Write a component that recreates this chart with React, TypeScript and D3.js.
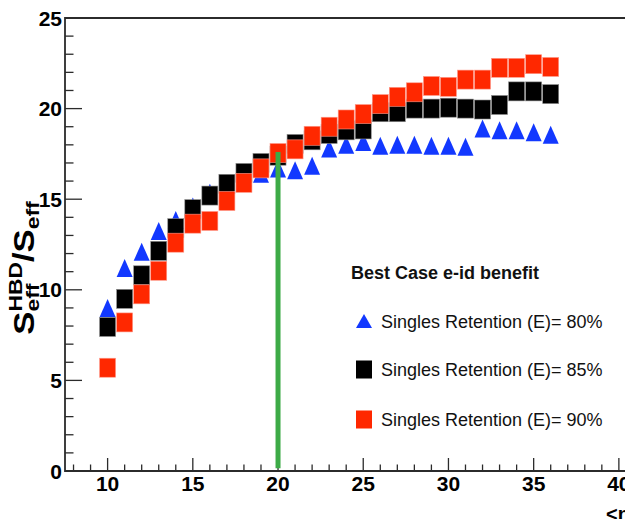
import React, { useEffect, useRef } from 'react';
import * as d3 from 'd3';

// <ne> values where each point was computed
const nePoints = [10, 11, 12, 13, 14, 15, 16, 17, 18, 19, 20, 21, 22, 23, 24, 25, 26, 27, 28, 29, 30, 31, 32, 33, 34, 35, 36];

// S_eff^HBD / S_eff for each singles retention
const retention80 = [9.0, 11.2, 12.1, 13.25, 13.85, 14.6, 15.35, 15.8, 16.2, 16.4, 16.7, 16.6, 16.85, 17.8, 18.0, 18.15, 17.95, 18.0, 18.0, 17.95, 17.95, 17.9, 18.9, 18.8, 18.8, 18.7, 18.55];
const retention85 = [7.95, 9.5, 10.8, 12.15, 13.4, 14.45, 15.2, 15.85, 16.45, 17.0, 17.4, 18.05, 18.25, 18.6, 18.8, 18.85, 19.8, 19.8, 20.0, 20.0, 20.05, 20.0, 19.95, 20.2, 20.95, 20.95, 20.8];
const retention90 = [5.7, 8.2, 9.75, 11.05, 12.6, 13.65, 13.8, 14.9, 15.9, 16.7, 17.55, 17.75, 18.5, 19.0, 19.4, 19.7, 20.25, 20.65, 20.9, 21.25, 21.2, 21.6, 21.6, 22.25, 22.25, 22.45, 22.3];

const xTickLabels = [10, 15, 20, 25, 30, 35, 40];
const yTickLabels = [0, 5, 10, 15, 20, 25];

// vertical marker line at <ne> = 20
const markerNe = 20;
const markerRange = [0.15, 17.6];

const legendTitle = 'Best Case e-id benefit';
const seriesNames = ['Singles Retention (E)= 80%', 'Singles Retention (E)= 85%', 'Singles Retention (E)= 90%'];

const BLUE = '#1238ff';
const RED = '#ff2800';
const GREEN = '#3dab47';
const FONT = "'Liberation Sans', Arial, Helvetica, sans-serif";

const App = () => {
  const ref = useRef<SVGSVGElement>(null);

  useEffect(() => {
    const width = 625;
    const height = 519;
    const svg = d3.select(ref.current);
    svg.selectAll('*').remove();

    svg.append('rect').attr('width', width).attr('height', height).attr('fill', 'white');

    const x = d3.scaleLinear().domain([7.5, 43]).range([65, 670]);
    const y = d3.scaleLinear().domain([0, 25]).range([471, 18]);

    const axisColor = '#2b2b2b';

    // minor + major ticks
    x.ticks(40).forEach(v => {
      const major = v % 5 === 0;
      svg.append('line')
        .attr('x1', x(v)).attr('x2', x(v))
        .attr('y1', y(0)).attr('y2', y(0) - (major ? 13 : 6.5))
        .attr('stroke', axisColor).attr('stroke-width', 1.3);
    });
    y.ticks(25).forEach(v => {
      const major = v % 5 === 0;
      svg.append('line')
        .attr('x1', x(7.5)).attr('x2', x(7.5) + (major ? 17 : 8.5))
        .attr('y1', y(v)).attr('y2', y(v))
        .attr('stroke', axisColor).attr('stroke-width', 1.3);
    });

    // frame
    svg.append('path')
      .attr('d', `M${x(43)},${y(25)}H${x(7.5)}V${y(0)}H${x(43)}`)
      .attr('fill', 'none').attr('stroke', axisColor).attr('stroke-width', 1.8);

    // tick labels
    svg.append('g').selectAll('text').data(xTickLabels).enter().append('text')
      .attr('x', d => x(d)).attr('y', 491)
      .attr('text-anchor', 'middle')
      .style('font-family', FONT).style('font-weight', 'bold').style('font-size', '21px')
      .text(d => d);
    svg.append('g').selectAll('text').data(yTickLabels).enter().append('text')
      .attr('x', 62).attr('y', d => y(d) + 7.5)
      .attr('text-anchor', 'end')
      .style('font-family', FONT).style('font-weight', 'bold').style('font-size', '21px')
      .text(d => d);

    // axis titles
    svg.append('text')
      .attr('x', 606).attr('y', 521)
      .style('font-family', FONT).style('font-weight', 'bold').style('font-size', '20px')
      .text('<ne>');

    const title = svg.append('text')
      .attr('transform', 'translate(34,268) rotate(-90) scale(1.2,1)')
      .attr('text-anchor', 'middle')
      .style('font-family', FONT).style('font-weight', 'bold');
    title.append('tspan').style('font-size', '29px').text('S');
    const sup = title.append('tspan').style('font-size', '19px').attr('dy', -12).text('HBD');
    const supW = (sup.node() as SVGTSpanElement).getComputedTextLength();
    const sub = title.append('tspan').style('font-size', '19px').attr('dx', -supW).attr('dy', 17).text('eff');
    const subW = (sub.node() as SVGTSpanElement).getComputedTextLength();
    title.append('tspan').style('font-size', '29px').attr('dx', supW - subW).attr('dy', -5).text('/S');
    title.append('tspan').style('font-size', '19px').attr('dy', 5).text('eff');

    // data markers
    const triangle = (cx: number, cy: number, w: number, h: number) =>
      `M${cx - w / 2},${cy + h / 2}L${cx},${cy - h / 2}L${cx + w / 2},${cy + h / 2}Z`;

    svg.append('g').selectAll('path').data(nePoints).enter().append('path')
      .attr('d', (d, i) => triangle(x(d), y(retention80[i]), 16, 18))
      .attr('fill', BLUE);

    svg.append('g').selectAll('rect').data(nePoints).enter().append('rect')
      .attr('x', d => x(d) - 8).attr('y', (d, i) => y(retention85[i]) - 9.5)
      .attr('width', 16).attr('height', 19)
      .attr('fill', '#000').attr('stroke', '#8a8a8a').attr('stroke-width', 0.6);

    svg.append('g').selectAll('rect').data(nePoints).enter().append('rect')
      .attr('x', d => x(d) - 8).attr('y', (d, i) => y(retention90[i]) - 9.5)
      .attr('width', 16).attr('height', 19)
      .attr('fill', RED).attr('stroke', '#ff9a8a').attr('stroke-width', 0.6);

    // green line at <ne> = 20
    svg.append('line')
      .attr('x1', x(markerNe)).attr('x2', x(markerNe))
      .attr('y1', y(markerRange[0])).attr('y2', y(markerRange[1]))
      .attr('stroke', GREEN).attr('stroke-width', 5);

    // legend
    svg.append('text')
      .attr('x', 351).attr('y', 278.5)
      .style('font-family', FONT).style('font-weight', 'bold').style('font-size', '18px')
      .attr('fill', '#111')
      .text(legendTitle);

    const rowY = [321, 369.5, 419.5];
    svg.append('path').attr('d', triangle(364, rowY[0], 16, 14)).attr('fill', BLUE);
    svg.append('rect').attr('x', 356).attr('y', rowY[1] - 9).attr('width', 16).attr('height', 18).attr('fill', '#000');
    svg.append('rect').attr('x', 356).attr('y', rowY[2] - 9).attr('width', 16).attr('height', 18).attr('fill', RED);

    svg.append('g').selectAll('text').data(seriesNames).enter().append('text')
      .attr('x', 381).attr('y', (d, i) => rowY[i] + 6.5)
      .style('font-family', FONT).style('font-size', '18px')
      .attr('fill', '#111')
      .text(d => d);
  }, []);

  return (
    <svg
      ref={ref}
      width={625}
      height={519}
      style={{ position: 'absolute', left: 0, top: 0, display: 'block' }}
    />
  );
};

export default App;
